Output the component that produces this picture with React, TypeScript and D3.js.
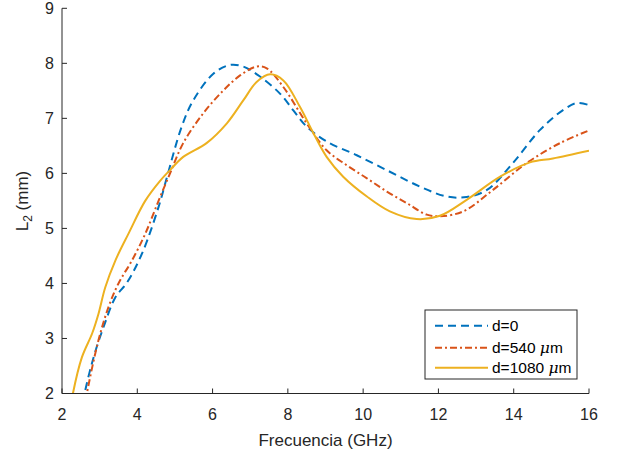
import React from "react";
import * as d3 from "d3";

const xTicks = [2, 4, 6, 8, 10, 12, 14, 16];
const yTicks = [2, 3, 4, 5, 6, 7, 8, 9];

const freqD0 = [2.5, 2.6, 2.84, 3.1, 3.42, 3.73, 4.13, 4.57, 4.78, 5.18, 5.49, 6.02, 6.46, 6.82, 7.26, 7.79, 8.14, 8.5, 9.03, 9.83, 10.71, 11.51, 12.22, 12.75, 13.29, 13.98, 14.7, 15.31, 15.68, 16.0];
const lenD0 = [1.6, 2.0, 2.66, 3.2, 3.75, 4.02, 4.55, 5.4, 5.91, 6.85, 7.33, 7.81, 7.97, 7.94, 7.76, 7.45, 7.15, 6.85, 6.58, 6.33, 6.03, 5.76, 5.58, 5.57, 5.7, 6.19, 6.79, 7.15, 7.28, 7.24];

const freqD540 = [2.56, 2.66, 2.97, 3.24, 3.5, 3.86, 4.21, 4.57, 4.87, 5.22, 5.75, 6.29, 6.73, 7.17, 7.44, 7.88, 8.5, 9.03, 9.56, 10.1, 10.63, 11.16, 11.69, 12.04, 12.66, 13.45, 14.35, 15.23, 16.0];
const lenD540 = [1.6, 2.0, 2.97, 3.58, 4.0, 4.42, 4.9, 5.51, 6.0, 6.55, 7.09, 7.51, 7.78, 7.94, 7.91, 7.57, 6.91, 6.42, 6.15, 5.91, 5.67, 5.46, 5.25, 5.22, 5.31, 5.7, 6.19, 6.55, 6.78];

const freqD1080 = [2.22, 2.29, 2.53, 2.8, 2.97, 3.15, 3.42, 3.77, 4.21, 4.6, 4.87, 5.22, 5.84, 6.38, 6.82, 7.17, 7.53, 7.88, 8.32, 8.68, 9.03, 9.47, 10.1, 10.71, 11.42, 12.04, 12.75, 13.64, 14.43, 15.04, 16.0];
const lenD1080 = [1.7, 2.0, 2.66, 3.09, 3.45, 3.93, 4.42, 4.91, 5.5, 5.86, 6.06, 6.3, 6.55, 6.91, 7.33, 7.66, 7.8, 7.69, 7.21, 6.73, 6.3, 5.94, 5.58, 5.31, 5.17, 5.23, 5.52, 5.94, 6.2, 6.27, 6.41];

const seriesNames = ["d=0", "d=540 ", "d=1080 "];

const W = 617;
const H = 452;
const left = 62, right = 589, top = 8.3, bottom = 393.5;
const FONT = "'Liberation Sans', Arial, Helvetica, sans-serif";
const AX = "#262626";

export default function App() {
  const x = d3.scaleLinear().domain([2, 16]).range([left, right]);
  const y = d3.scaleLinear().domain([2, 9]).range([bottom, top]);
  const line = d3
    .line<[number, number]>()
    .x((d) => x(d[0]))
    .y((d) => y(d[1]))
    .curve(d3.curveCatmullRom.alpha(0.5));

  const series = [
    { f: freqD0, v: lenD0, color: "#0072BD", dash: "8,5" },
    { f: freqD540, v: lenD540, color: "#D95319", dash: "7,3,2,3" },
    { f: freqD1080, v: lenD1080, color: "#EDB120", dash: "none" },
  ];

  const legendRows = [325.7, 347.7, 367.7];

  return (
    <svg
      width={W}
      height={H}
      style={{ position: "absolute", left: 0, top: 0, background: "#fff" }}
      fontFamily={FONT}
    >
      <defs>
        <clipPath id="plotclip">
          <rect x={left} y={top} width={right - left} height={bottom - top} />
        </clipPath>
      </defs>
      <rect x={0} y={0} width={W} height={H} fill="#fff" />
      <g clipPath="url(#plotclip)">
        {series.map((s, i) => (
          <path
            key={i}
            d={line(s.f.map((f, j) => [f, s.v[j]] as [number, number])) || ""}
            fill="none"
            stroke={s.color}
            strokeWidth={2}
            strokeDasharray={s.dash}
          />
        ))}
      </g>
      {/* axes */}
      <line x1={left} x2={right} y1={bottom} y2={bottom} stroke={AX} strokeWidth={1} />
      <line x1={left} x2={left} y1={top} y2={bottom} stroke={AX} strokeWidth={1} />
      {xTicks.map((t) => (
        <g key={"x" + t}>
          <line x1={x(t)} x2={x(t)} y1={bottom} y2={bottom - 5} stroke={AX} strokeWidth={1} />
          <text x={x(t)} y={420} textAnchor="middle" fontSize={16} fill={AX}>
            {t}
          </text>
        </g>
      ))}
      {yTicks.map((t) => (
        <g key={"y" + t}>
          <line x1={left} x2={left + 5} y1={y(t)} y2={y(t)} stroke={AX} strokeWidth={1} />
          <text x={54} y={y(t)} dy="0.36em" textAnchor="end" fontSize={16} fill={AX}>
            {t}
          </text>
        </g>
      ))}
      <text x={(left + right) / 2} y={446} textAnchor="middle" fontSize={17} fill={AX}>
        Frecuencia (GHz)
      </text>
      <text transform={`translate(28,201) rotate(-90)`} textAnchor="middle" fontSize={17} fill={AX}>
        L<tspan fontSize={12} dy={4}>2</tspan>
        <tspan dy={-4}> (mm)</tspan>
      </text>
      {/* legend */}
      <rect x={425} y={310} width={152} height={69} fill="#fff" stroke={AX} strokeWidth={1} />
      {series.map((s, i) => (
        <g key={"lg" + i}>
          <line
            x1={435}
            x2={488}
            y1={legendRows[i]}
            y2={legendRows[i]}
            stroke={s.color}
            strokeWidth={2}
            strokeDasharray={s.dash}
          />
          <text x={492} y={legendRows[i]} dy="0.36em" fontSize={15.5} fill="#000">
            {seriesNames[i]}
            {i > 0 ? (
              <>
                <tspan fontStyle="italic" fontFamily="'DejaVu Serif', 'Liberation Serif', serif">μ</tspan>
                <tspan>m</tspan>
              </>
            ) : null}
          </text>
        </g>
      ))}
    </svg>
  );
}
